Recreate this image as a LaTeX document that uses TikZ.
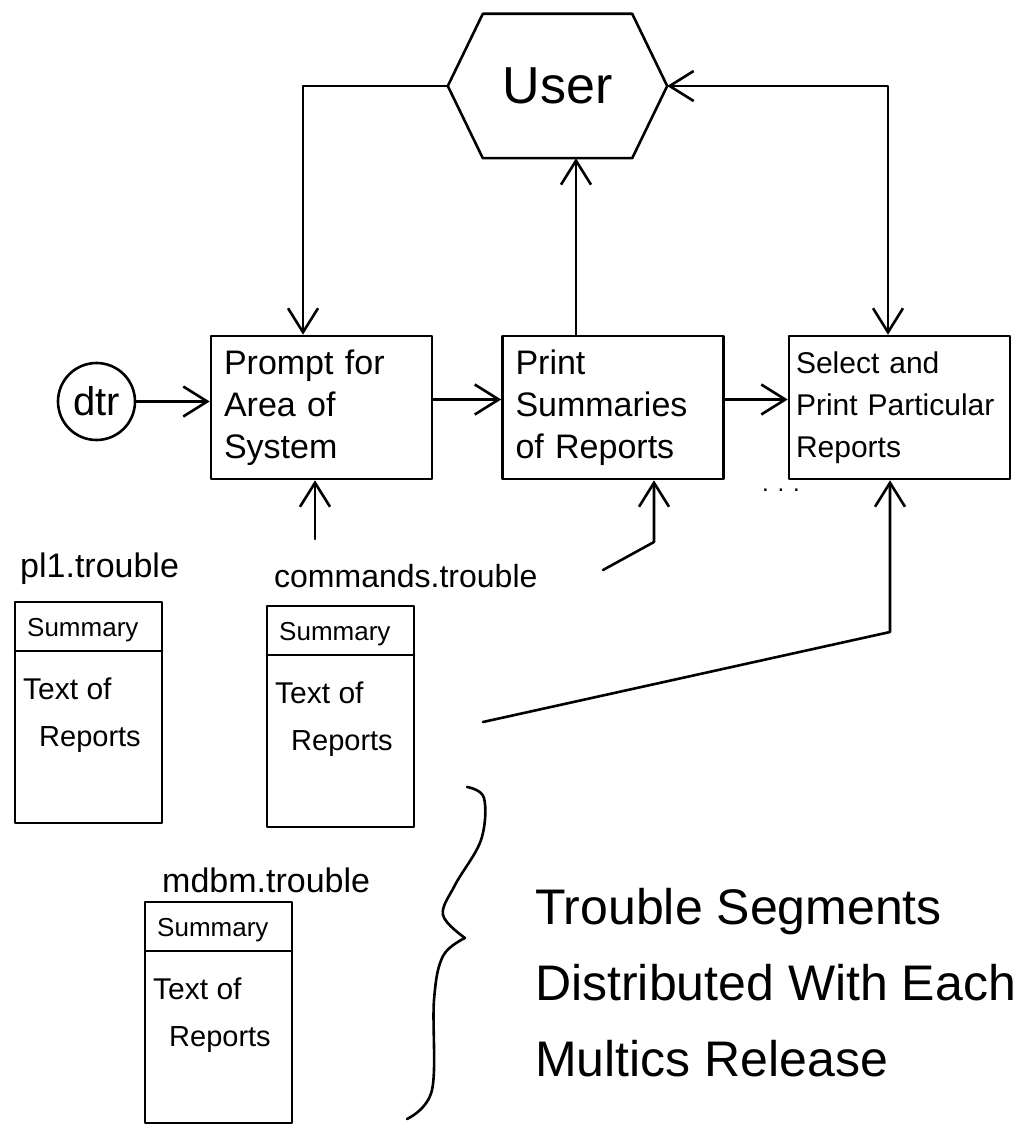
\documentclass[tikz,border=0pt]{standalone}
\usepackage{fontspec}
\setmainfont{Liberation Sans}
\usetikzlibrary{arrows.meta,calc}

\tikzset{
  ink/.style={line width=2.6pt, line cap=round, line join=round},
  arr/.style={ink, -{Straight Barb[length=24pt,width=30pt]}},
  dblarr/.style={ink, {Straight Barb[length=24pt,width=30pt]}-{Straight Barb[length=24pt,width=30pt]}},
  procbox/.style={draw, ink, minimum width=221pt, minimum height=143pt,
    text width=195pt, inner xsep=13pt, align=left,
    font=\fontsize{34}{42}\selectfont},
  handtext/.style={inner sep=0pt, anchor=base west},
  pics/segfile/.style={code={
    \draw[ink] (0,0) rectangle (147,221);
    \draw[ink] (0,49) -- (147,49);
    \node[handtext, font=\fontsize{26}{30}\selectfont] (-sum) at (12,34) {Summary};
    \node[handtext, font=\fontsize{30}{34}\selectfont] (-txt) at (8,97) {Text of};
    \node[handtext, font=\fontsize{29}{34}\selectfont] (-rep) at (24,144) {Reports};
  }}
}

\begin{document}
\begin{tikzpicture}[x=1pt, y=-1pt]
  \path[use as bounding box, fill=white] (0,0) rectangle (1024,1131);

  % the user, a hexagon around an invisible frame
  \node[minimum width=219pt, minimum height=144pt, inner sep=0pt,
        font=\fontsize{52}{60}\selectfont] (user) at (557.5,86) {User};
  \draw[ink] (user.west) -- ($(user.north west)+(35,0)$) -- ($(user.north east)+(-35,0)$)
    -- (user.east) -- ($(user.south east)+(-35,0)$) -- ($(user.south west)+(35,0)$) -- cycle;

  % entry point
  \node[draw, ink, circle, minimum size=77pt, inner sep=0pt,
        font=\fontsize{40}{44}\selectfont] (dtr) at (96.5,401.5) {dtr};

  % the three steps
  \node[procbox] (prompt) at (321.5,407.5) {Prompt for\\Area of\\System};
  \node[procbox] (summ) at (613,407.5) {Print\\Summaries\\of Reports};
  \node[procbox, text width=207pt, inner xsep=7pt, font=\fontsize{30}{42}\selectfont]
    (select) at (899.5,407.5) {Select and\\Print Particular\\Reports};

  % flow between the steps
  \draw[arr] (dtr.east) -- (dtr.east -| prompt.west);
  \draw[arr] ([yshift=8pt]prompt.east) -- ([yshift=8pt]summ.west);
  \draw[arr] ([yshift=8pt]summ.east) -- ([yshift=8pt]select.west);
  \node[font=\fontsize{24}{26}\selectfont, inner sep=0pt] (more) at (781,490) {. . .};

  % dialogue with the user
  \draw[arr] (user.west) -| ([xshift=-18.5pt]prompt.north);
  \coordinate (up) at ([xshift=-37pt]summ.north);
  \draw[arr] (up) -- (up |- user.south);
  \draw[dblarr] (user.east) -| ([xshift=-11.5pt]select.north);

  % trouble segments
  \pic (pl1) at (15,602) {segfile};
  \pic (cmds) at (267,606) {segfile};
  \pic (mdbm) at (145,902) {segfile};
  \node[handtext, font=\fontsize{34}{38}\selectfont] (pl1lab) at (20,577) {pl1.trouble};
  \node[handtext, font=\fontsize{32}{36}\selectfont] (cmdslab) at (274,587) {commands.trouble};
  \node[handtext, font=\fontsize{34}{38}\selectfont] (mdbmlab) at (162,892) {mdbm.trouble};

  % segment data flowing up into the steps
  \coordinate (in1) at (315,539);
  \draw[arr] (in1) -- (in1 |- prompt.south);
  \coordinate (in2a) at (603,570);
  \coordinate (in2b) at (654,542);
  \draw[arr] (in2a) -- (in2b) -- (in2b |- summ.south);
  \coordinate (in3a) at (483,722);
  \coordinate (in3b) at (890,632);
  \draw[arr] (in3a) -- (in3b) -- (in3b |- select.south);

  % brace grouping the segments
  \draw[ink] plot[smooth, tension=0.6] coordinates
    {(467,787) (484,798) (481,840) (455,885) (443,915) (465,938)};
  \draw[ink] plot[smooth, tension=0.6] coordinates
    {(465,938) (443,956) (434,1000) (432,1090) (407,1119)};

  \node[anchor=north west, inner sep=0pt, align=left,
        font=\fontsize{50}{76}\selectfont] (note) at (535,888)
    {Trouble Segments\\Distributed With Each\\Multics Release};
\end{tikzpicture}
\end{document}
